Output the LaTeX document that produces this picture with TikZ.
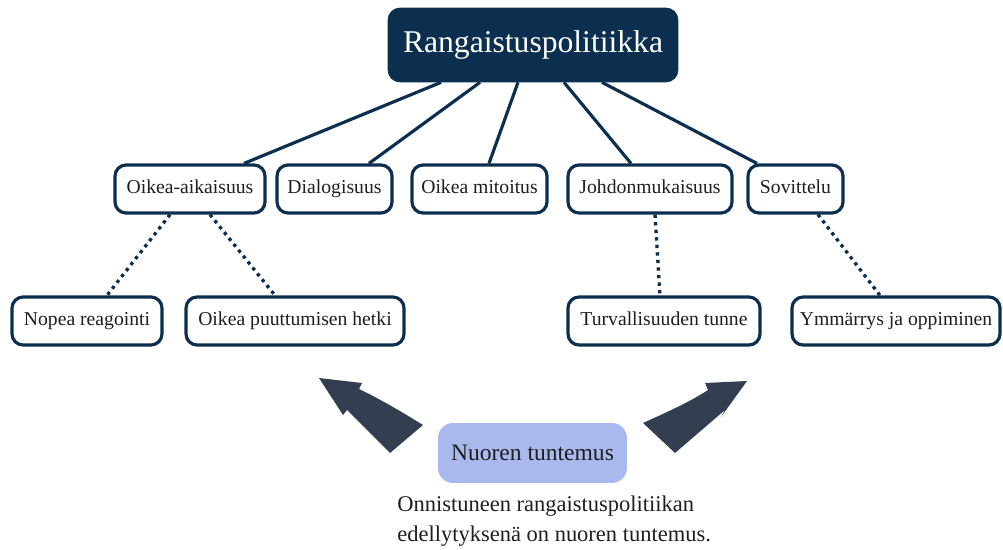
\documentclass[tikz,border=0pt]{standalone}
\usepackage{fontspec}
\setmainfont{Liberation Serif}
\definecolor{navy}{HTML}{0C2F4F}
\definecolor{slate}{HTML}{333F50}
\definecolor{lilac}{HTML}{A9B9EE}
\definecolor{ink}{HTML}{1E1E1E}
\tikzset{
  headbox/.style={draw=navy, fill=navy, rounded corners=0.24cm, text=white,
    font=\fontsize{18}{22}\selectfont, minimum width=5.8cm, minimum height=1.48cm},
  aspect/.style={draw=navy, line width=1.8pt, fill=white, rounded corners=0.22cm,
    text=ink, font=\fontsize{11.2}{13}\selectfont, minimum height=0.96cm, inner xsep=0pt,
    text height=7.6pt, text depth=2.4pt},
  link/.style={draw=navy, line width=1.8pt},
  dotlink/.style={draw=navy, line width=1.9pt, dash pattern=on 1.9pt off 2.4pt},
  bigarrow/.style={fill=slate, draw=none}
}
\begin{document}
\begin{tikzpicture}[x=0.02cm, y=-0.02cm]
\useasboundingbox (0,0) rectangle (1003,550);

\node[headbox] (top) at (533,45) {Rangaistuspolitiikka};

\node[aspect, minimum width=3.0cm]  (oa)   at (190,189)   {Oikea-aikaisuus};
\node[aspect, minimum width=2.3cm]  (dia)  at (334.5,189) {Dialogisuus};
\node[aspect, minimum width=2.7cm]  (mit)  at (479.5,189) {Oikea mitoitus};
\node[aspect, minimum width=3.28cm] (joh)  at (650,189)   {Johdonmukaisuus};
\node[aspect, minimum width=1.9cm]  (sov)  at (795.5,189) {Sovittelu};

\node[aspect, minimum width=3.0cm]  (nop)  at (87,321)  {Nopea reagointi};
\node[aspect, minimum width=4.36cm] (het)  at (295,321) {Oikea puuttumisen hetki};
\node[aspect, minimum width=3.84cm] (turv) at (664,321) {Turvallisuuden tunne};
\node[aspect, minimum width=4.16cm] (ymm)  at (896,321) {Ymmärrys ja oppiminen};

\node[fill=lilac, rounded corners=0.3cm, minimum width=3.78cm, minimum height=1.2cm,
  text=ink, font=\fontsize{13.4}{16}\selectfont] (tunt) at (532.5,453) {Nuoren tuntemus};

\node[anchor=north west, inner sep=0pt, align=left, text=ink,
  font=\fontsize{12.8}{16.6}\selectfont] (note) at (397,496)
  {Onnistuneen rangaistuspolitiikan\\edellytyksenä on nuoren tuntemus.};

% solid links
\draw[link] ([xshift=-1.84cm]top.south) -- ([xshift=1.08cm]oa.north);
\draw[link] ([xshift=-1.06cm]top.south) -- ([xshift=0.69cm]dia.north);
\draw[link] ([xshift=-0.30cm]top.south) -- ([xshift=0.19cm]mit.north);
\draw[link] ([xshift=0.62cm]top.south)  -- ([xshift=-0.38cm]joh.north);
\draw[link] ([xshift=1.38cm]top.south)  -- ([xshift=-0.77cm]sov.north);

% dotted links
\draw[dotlink] ([xshift=-0.4cm]oa.south) -- ([xshift=0.4cm]nop.north);
\draw[dotlink] ([xshift=0.4cm]oa.south)  -- ([xshift=-0.4cm]het.north);
\draw[dotlink] ([xshift=0.1cm]joh.south) -- ([xshift=-0.08cm]turv.north);
\draw[dotlink] ([xshift=0.45cm]sov.south) -- ([xshift=-0.32cm]ymm.north);

% block arrows
\path[bigarrow] (319,378) -- (362,383) -- (359,389)
  .. controls (380,399) and (402,412) .. (423,425) -- (390,453)
  -- (347,410) -- (343,415) -- cycle;
\path[bigarrow] (747,381) -- (721,417) -- (725,410) -- (675,453)
  -- (643,423) .. controls (665,413) and (688,403) .. (708,390)
  -- (705,383) -- cycle;
\end{tikzpicture}
\end{document}
